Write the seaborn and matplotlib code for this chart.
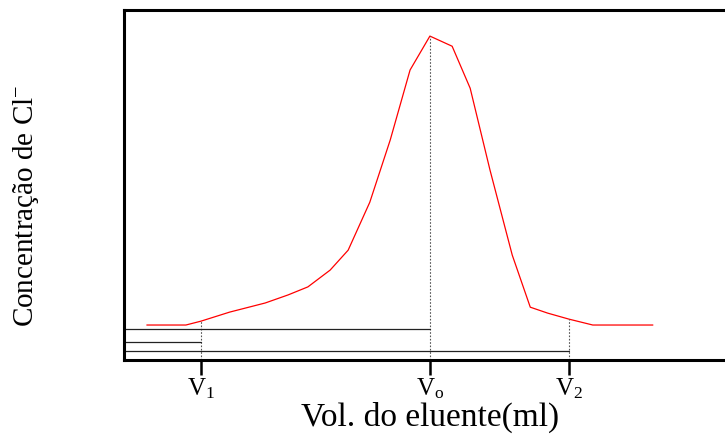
import matplotlib
matplotlib.use("Agg")
import matplotlib.pyplot as plt
import seaborn as sns
import pandas as pd

# curva de eluicao (unidades arbitrarias)
vol = [3.8, 10.3, 12.8, 17.6, 23.5, 27.3, 30.6, 34.3, 37.3, 40.9, 44.3,
       47.6, 50.9, 54.6, 57.6, 60.9, 64.6, 67.6, 70.5, 74.0, 78.0, 88.0]
conc = [10.0, 10.0, 11.1, 13.7, 16.3, 18.6, 20.9, 25.7, 31.4, 45.1, 62.9,
        82.9, 92.6, 89.7, 77.7, 54.3, 30.0, 15.1, 13.4, 11.7, 10.0, 10.0]

# volumes marcados e niveis das linhas horizontais
marks = [12.8, 50.9, 74.0]
mark_labels = [r"$\mathrm{V}_1$", r"$\mathrm{V}_\mathrm{o}$", r"$\mathrm{V}_2$"]
mark_tops = [11.1, 92.6, 11.7]
levels = [8.9, 5.1, 2.6]
level_ends = [50.9, 12.8, 74.0]

sns.set_style("white")
plt.rcParams["font.family"] = ["Liberation Serif", "DejaVu Serif"]
plt.rcParams["mathtext.fontset"] = "custom"
plt.rcParams["mathtext.rm"] = "Liberation Serif"
plt.rcParams["mathtext.it"] = "Liberation Serif:italic"
plt.rcParams["text.color"] = "black"
plt.rcParams["axes.labelcolor"] = "black"
plt.rcParams["xtick.color"] = "black"

df = pd.DataFrame({"vol": vol, "conc": conc})

fig = plt.figure(figsize=(7.25, 4.34), dpi=100)
ax = fig.add_axes([0.171, 0.1705, 0.879, 0.806])

sns.lineplot(data=df, x="vol", y="conc", color="red", linewidth=0.9, ax=ax)

# linhas verticais pontilhadas
for m, t in zip(marks, mark_tops):
    ax.plot([m, m], [0, t], color="#555555", linestyle=(0, (1.5, 1.5)), linewidth=0.8)

# linhas horizontais
for lv, end in zip(levels, level_ends):
    ax.plot([0, end], [lv, lv], color="#222222", linewidth=0.9)

ax.set_xlim(0, 100 * 0.879 / 0.829)
ax.set_ylim(0, 100)
ax.set_xticks(marks)
ax.set_xticklabels(mark_labels, fontsize=18)
ax.set_yticks([])
ax.tick_params(axis="x", bottom=True, direction="out", length=11, width=1.8, pad=1)

for side in ["left", "top", "bottom"]:
    ax.spines[side].set_linewidth(2.2)
    ax.spines[side].set_color("black")
ax.spines["right"].set_visible(False)

ax.set_xlabel("Vol. do eluente(ml)", fontsize=24)
ax.xaxis.set_label_coords(0.48, -0.12)
ax.set_ylabel(r"Concentração de Cl$^{-}$", fontsize=21)
ax.yaxis.set_label_coords(-0.13, 0.44)

fig.savefig("out.png", dpi=100)
